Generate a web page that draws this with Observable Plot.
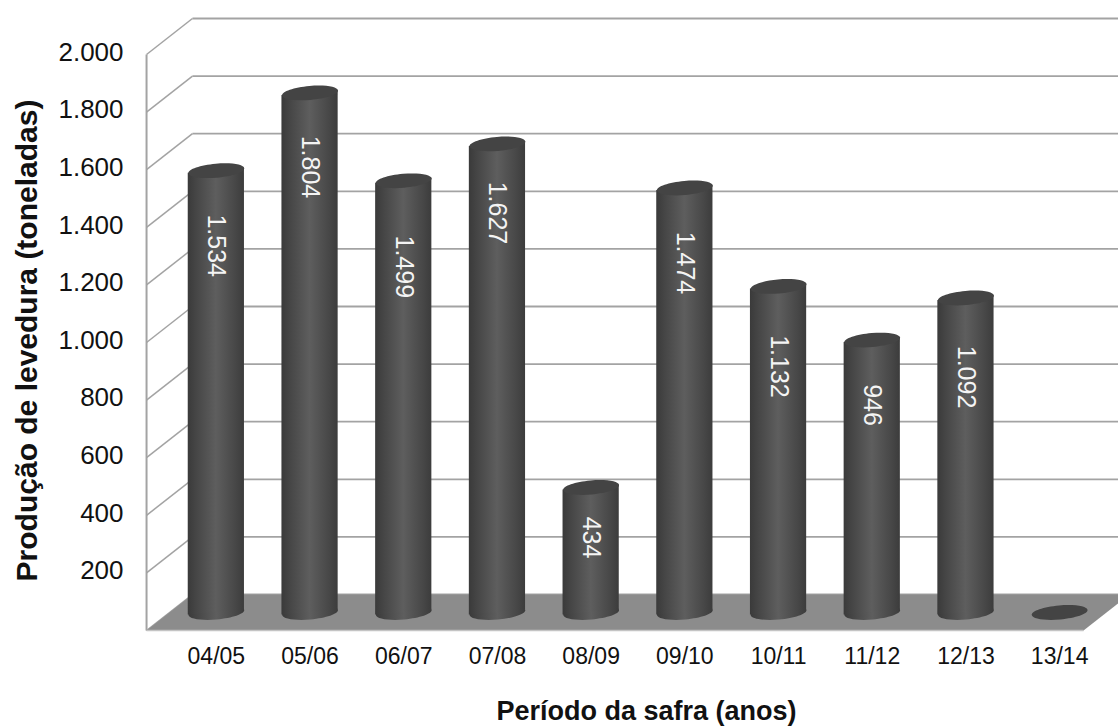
<!DOCTYPE html>
<html>
<head>
<meta charset="utf-8">
<script src="https://cdn.jsdelivr.net/npm/d3@7"></script>
<script src="https://cdn.jsdelivr.net/npm/@observablehq/plot@0.6"></script>
<style>
  html, body { margin: 0; padding: 0; background: #fff; }
  svg { display: block; }
</style>
</head>
<body>
<div id="chart"></div>
<script>
const safras = ["04/05","05/06","06/07","07/08","08/09","09/10","10/11","11/12","12/13","13/14"];
const producao = [1534,1804,1499,1627,434,1474,1132,946,1092,0];
const marcasEixoY = [200,400,600,800,1000,1200,1400,1600,1800,2000];
const linhasGrade = [0,...marcasEixoY];

// Depth of the pseudo-3D box, in data units of each scale
const depthX = 0.245;
const depthY = 62.5;

// Tilt of the cylinder ends, in degrees
const tilt = 5;

// Pixels from each cylinder's top down to the middle of its value label
const descidaRotulo = [75,74,86,69,50,75,80,65,79,0];

const fmt = d3.formatLocale({decimal: ",", thousands: ".", grouping: [3]}).format(",d");
const rows = safras.map((safra, i) => ({safra, i, valor: producao[i], mid: i + 0.5}));
const cheias = rows.filter(d => d.valor > 0);

// Slightly tilted ellipse, used for the cylinder caps and bases
const cap = {
  draw(ctx) {
    const rx = 28, ry = 7, t = -tilt * Math.PI / 180, k = 0.5523;
    const p = (x, y) => [x * Math.cos(t) - y * Math.sin(t), x * Math.sin(t) + y * Math.cos(t)];
    ctx.moveTo(...p(rx, 0));
    ctx.bezierCurveTo(...p(rx, k * ry), ...p(k * rx, ry), ...p(0, ry));
    ctx.bezierCurveTo(...p(-k * rx, ry), ...p(-rx, k * ry), ...p(-rx, 0));
    ctx.bezierCurveTo(...p(-rx, -k * ry), ...p(-k * rx, -ry), ...p(0, -ry));
    ctx.bezierCurveTo(...p(k * rx, -ry), ...p(rx, -k * ry), ...p(rx, 0));
    ctx.closePath();
  }
};

const floor = [
  {x: -depthX, y: -depthY},
  {x: 10 - depthX, y: -depthY},
  {x: 10 + depthX, y: depthY},
  {x: depthX, y: depthY}
];

const gridColor = "#a3a3a3";
const font = "'Liberation Sans', Arial, sans-serif";

const chart = Plot.plot({
  width: 1118,
  height: 726,
  marginLeft: 0,
  marginTop: 0,
  marginRight: 0,
  marginBottom: 0,
  style: {fontFamily: font, background: "#fff", color: "#111"},
  x: {domain: [0, 10], range: [169, 1106], axis: null},
  y: {domain: [0, 2000], range: [612, 36], axis: null},
  marks: [
    // Back wall grid
    Plot.link(linhasGrade, {x1: depthX, x2: 10.3, y1: d => d + depthY, y2: d => d + depthY, stroke: gridColor, strokeWidth: 1.8}),
    // Side wall diagonals
    Plot.link(linhasGrade, {x1: -depthX, x2: depthX, y1: d => d - depthY, y2: d => d + depthY, stroke: gridColor, strokeWidth: 1.5}),
    // Front vertical edge
    Plot.link([0], {x1: -depthX, x2: -depthX, y1: -depthY, y2: 2000 - depthY, stroke: gridColor, strokeWidth: 2}),
    // Floor
    Plot.line(floor, {x: "x", y: "y", fill: "#8c8c8c", stroke: "none"}),
    Plot.link([0], {x1: -depthX, x2: 10 - depthX, y1: -depthY, y2: -depthY, stroke: "#c4c4c4", strokeWidth: 1.5}),
    // Cylinders
    Plot.dot(cheias, {x: "mid", y: 0, r: 5, symbol: cap, fill: "url(#cilindro)", stroke: "none"}),
    Plot.rectY(cheias, {x1: d => d.i + 0.2, x2: d => d.i + 0.8, y1: 0, y2: "valor", fill: "url(#cilindro)"}),
    Plot.dot(rows, {x: "mid", y: "valor", r: 5, symbol: cap, fill: "#444444", stroke: "none"}),
    // Values inside the cylinders
    ...cheias.map(d => Plot.text([d], {
      x: "mid", y: "valor", text: r => fmt(r.valor), rotate: 90, textAnchor: "middle", lineAnchor: "middle",
      dy: descidaRotulo[d.i], fill: "#f4f4f4", fontSize: 25, fontFamily: font
    })),
    // Axes
    Plot.text(marcasEixoY, {
      x: -depthX, y: d => d, text: d => fmt(d), textAnchor: "end", dx: -23, dy: 16,
      fill: "#111", fontSize: 26, fontFamily: font
    }),
    Plot.text(rows, {
      x: "mid", y: 0, text: "safra", dy: 44, fill: "#111", fontSize: 23, fontFamily: font
    }),
    // Axis titles
    Plot.text(["Produção de levedura (toneladas)"], {
      frameAnchor: "top-left", dx: 27, dy: 340, text: d => d, rotate: -90, textAnchor: "middle", lineAnchor: "middle",
      fill: "#111", fontSize: 30, fontWeight: "bold", fontFamily: font
    }),
    Plot.text(["Período da safra (anos)"], {
      frameAnchor: "top-left", dx: 646, dy: 711, text: d => d, textAnchor: "middle", lineAnchor: "middle",
      fill: "#111", fontSize: 27, fontWeight: "bold", fontFamily: font
    })
  ]
});

// Horizontal shading shared by all cylinders
const grad = d3.select(chart).insert("defs", ":first-child").append("linearGradient")
  .attr("id", "cilindro").attr("x1", 0).attr("x2", 1).attr("y1", 0).attr("y2", 0);
[[0, "#3a3a3a"], [0.14, "#454545"], [0.5, "#5e5e5e"], [0.85, "#474747"], [1, "#3c3c3c"]].forEach(([o, c]) =>
  grad.append("stop").attr("offset", o).attr("stop-color", c));

// Shear the cylinder bodies so their ends follow the tilted caps
d3.select(chart).selectAll('g[aria-label="rect"] rect').attr("transform", function() {
  const cx = +this.getAttribute("x") + this.getAttribute("width") / 2;
  const cy = +this.getAttribute("y") + +this.getAttribute("height");
  return `translate(${cx},${cy}) skewY(${-tilt}) translate(${-cx},${-cy})`;
});

document.getElementById("chart").append(chart);
</script>
</body>
</html>
